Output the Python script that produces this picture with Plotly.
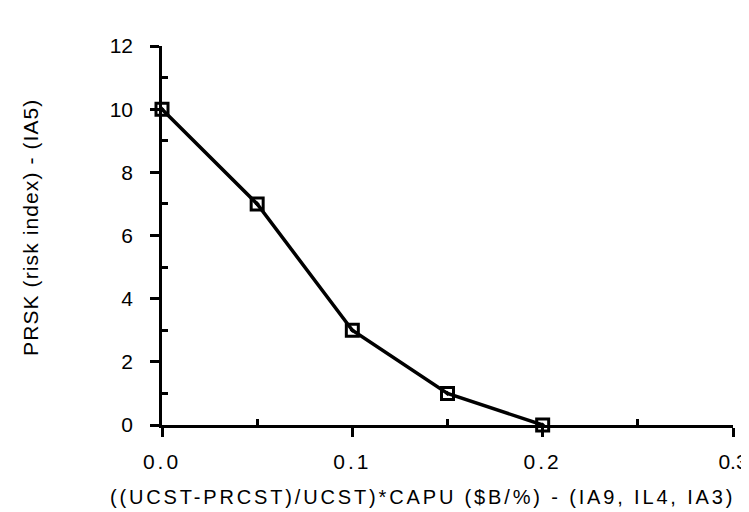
import plotly.graph_objects as go

x_vals = [0.0, 0.05, 0.1, 0.15, 0.2]
prsk = [10, 7, 3, 1, 0]
x_ticks = [0.0, 0.1, 0.2, 0.3]
x_tick_labels = ["0.0", "0.1", "0.2", "0.3"]
x_minor = [0.05, 0.15, 0.25]
y_ticks = [0, 2, 4, 6, 8, 10, 12]
y_tick_labels = ["0", "2", "4", "6", "8", "10", "12"]
y_minor = [1, 3, 5, 7, 9, 11]
x_title = "((UCST-PRCST)/UCST)*CAPU ($B/%) - (IA9, IL4, IA3)"
y_title = "PRSK (risk index) - (IA5)"


def spaced(t, px):
    return '<span style="letter-spacing:%spx">%s</span>' % (px, t)


# last label sits at the right edge, so keep it compact enough to stay visible
x_tick_text = [spaced(t, 3) for t in x_tick_labels[:-1]] + [x_tick_labels[-1]]

fig = go.Figure()
fig.add_trace(go.Scatter(
    x=x_vals, y=prsk, mode="lines+markers",
    line=dict(color="black", width=3.5),
    marker=dict(symbol="square-open-dot", size=12, color="black",
                line=dict(color="black", width=3)),
    cliponaxis=False, showlegend=False))

fnt = dict(family="Liberation Sans, Arial, sans-serif", color="black")
fig.update_layout(
    width=741, height=504,
    margin=dict(l=154, r=16, t=38, b=87, autoexpand=False),
    paper_bgcolor="white", plot_bgcolor="white",
    font=dict(**fnt, size=20),
)
fig.update_xaxes(
    range=[0, 0.3], tickvals=x_ticks, ticktext=x_tick_text,
    showgrid=False, zeroline=False, showline=True, linecolor="black", linewidth=2.5,
    ticks="outside", ticklen=9, tickwidth=2.5, tickcolor="black",
    minor=dict(tickvals=x_minor, ticks="inside", ticklen=6, tickwidth=2.5, tickcolor="black"),
    tickfont=dict(size=21), ticklabelstandoff=7, ticklabeloverflow="allow",
    automargin=False,
)
fig.update_yaxes(
    range=[0, 12], tickvals=y_ticks, ticktext=y_tick_labels,
    showgrid=False, zeroline=False, showline=True, linecolor="black", linewidth=2.5,
    ticks="outside", ticklen=9, tickwidth=2.5, tickcolor="black",
    minor=dict(tickvals=y_minor, ticks="inside", ticklen=6, tickwidth=2.5, tickcolor="black"),
    tickfont=dict(size=21), ticklabelstandoff=13, automargin=False,
)
fig.add_annotation(text=spaced(x_title, 2.85), xref="paper", yref="paper",
                   x=0.457, y=-0.190, xanchor="center", yanchor="middle",
                   showarrow=False, font=dict(size=20))
fig.add_annotation(text=spaced(y_title, 1.1), xref="paper", yref="paper",
                   x=-0.2294, y=0.520, xanchor="center", yanchor="middle",
                   textangle=-90, showarrow=False, font=dict(size=21))
fig.write_html("out.html")
